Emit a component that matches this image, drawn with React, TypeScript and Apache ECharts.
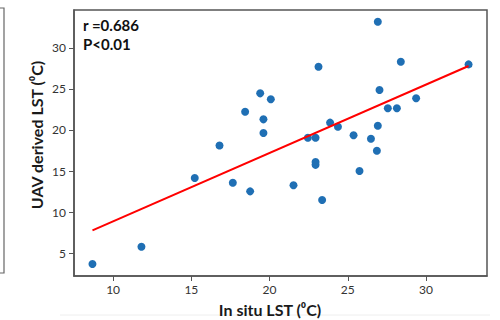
import React, { useEffect, useRef } from "react";
import * as echarts from "echarts";

const insituX: number[] = [
  8.68, 11.81, 15.22, 16.8, 17.65, 18.44, 18.76, 19.4, 19.61, 19.61, 20.08,
  21.53, 22.45, 22.94, 22.94, 22.94, 23.13, 23.36, 23.87, 24.37, 25.37, 25.75,
  26.48, 26.86, 26.92, 26.92, 27.03, 27.56, 28.14, 28.39, 29.37, 32.72,
];
const uavY: number[] = [
  3.66, 5.77, 14.15, 18.1, 13.57, 22.23, 12.52, 24.47, 21.3, 19.63, 23.74,
  13.26, 19.06, 19.06, 15.75, 16.1, 27.72, 11.46, 20.9, 20.4, 19.35, 15.0,
  18.94, 17.48, 20.52, 33.2, 24.88, 22.65, 22.65, 28.33, 23.87, 28.0,
];
const fitX: number[] = [8.68, 32.72];
const fitY: number[] = [7.76, 27.8];
const xTicks: number[] = [10, 15, 20, 25, 30];
const yTicks: number[] = [5, 10, 15, 20, 25, 30];
const statLines: string[] = ["r =0.686", "P<0.01"];
const xTitle = "In situ LST (\u2070C)";
const yTitle = "UAV derived LST (\u2070C)";

export default function App() {
  const ref = useRef<HTMLDivElement>(null);
  useEffect(() => {
    if (!ref.current) return;
    const chart = echarts.init(ref.current, null, { renderer: "svg" });
    const tickFont = { fontFamily: "Lato, 'Open Sans', sans-serif", fontSize: 12, color: "#333" };
    chart.setOption({
      animation: false,
      backgroundColor: "#fff",
      grid: {
        left: 74,
        right: 13,
        top: 10,
        bottom: 44,
        show: true,
        borderColor: "#555",
        borderWidth: 1.5,
        backgroundColor: "transparent",
      },
      xAxis: {
        type: "value",
        min: 7.5,
        max: 33.9,
        splitLine: { show: false },
        axisLine: { show: true, onZero: false, lineStyle: { color: "#555", width: 1.5 } },
        axisTick: { show: true, length: 5, customValues: xTicks, lineStyle: { color: "#555" } },
        axisLabel: { ...tickFont, margin: 7, customValues: xTicks },
      },
      yAxis: {
        type: "value",
        min: 2.2,
        max: 34.63,
        splitLine: { show: false },
        axisLine: { show: true, onZero: false, lineStyle: { color: "#555", width: 1.5 } },
        axisTick: { show: true, length: 5, customValues: yTicks, lineStyle: { color: "#555" } },
        axisLabel: { ...tickFont, margin: 8, customValues: yTicks },
      },
      series: [
        {
          type: "scatter",
          data: insituX.map((x, i) => [x, uavY[i]]),
          symbolSize: 8,
          itemStyle: { color: "#1f6fb4", opacity: 1 },
          z: 3,
        },
        {
          type: "line",
          data: fitX.map((x, i) => [x, fitY[i]]),
          symbol: "none",
          lineStyle: { color: "#ff0000", width: 2 },
          z: 4,
        },
      ],
      graphic: [
        {
          type: "polyline",
          shape: { points: [[0, 8], [4, 8], [4, 273], [0, 273]] },
          style: { stroke: "#666", lineWidth: 1.2, fill: "none" },
        },
        {
          type: "line",
          shape: { x1: 60, y1: 315, x2: 490, y2: 315 },
          style: { stroke: "#eeeeee", lineWidth: 1 },
        },
        {
          type: "text",
          left: 83,
          top: 17,
          style: {
            text: statLines[0],
            font: "bold 15px Lato, 'Open Sans', sans-serif",
            fill: "#111",
          },
        },
        {
          type: "text",
          left: 83,
          top: 36,
          style: {
            text: statLines[1],
            font: "bold 15px Lato, 'Open Sans', sans-serif",
            fill: "#111",
          },
        },
        {
          type: "text",
          x: 270,
          y: 309,
          style: {
            text: xTitle,
            font: "bold 16px Lato, 'Open Sans', sans-serif",
            fill: "#1a1a1a",
            align: "center",
            verticalAlign: "middle",
          },
        },
        {
          type: "text",
          x: 36,
          y: 135,
          rotation: Math.PI / 2,
          style: {
            text: yTitle,
            font: "bold 16px Lato, 'Open Sans', sans-serif",
            fill: "#1a1a1a",
            align: "center",
            verticalAlign: "middle",
          },
        },
      ],
    });
    return () => chart.dispose();
  }, []);
  return <div ref={ref} style={{ width: 500, height: 320, position: "fixed", left: 0, top: 0 }} />;
}
